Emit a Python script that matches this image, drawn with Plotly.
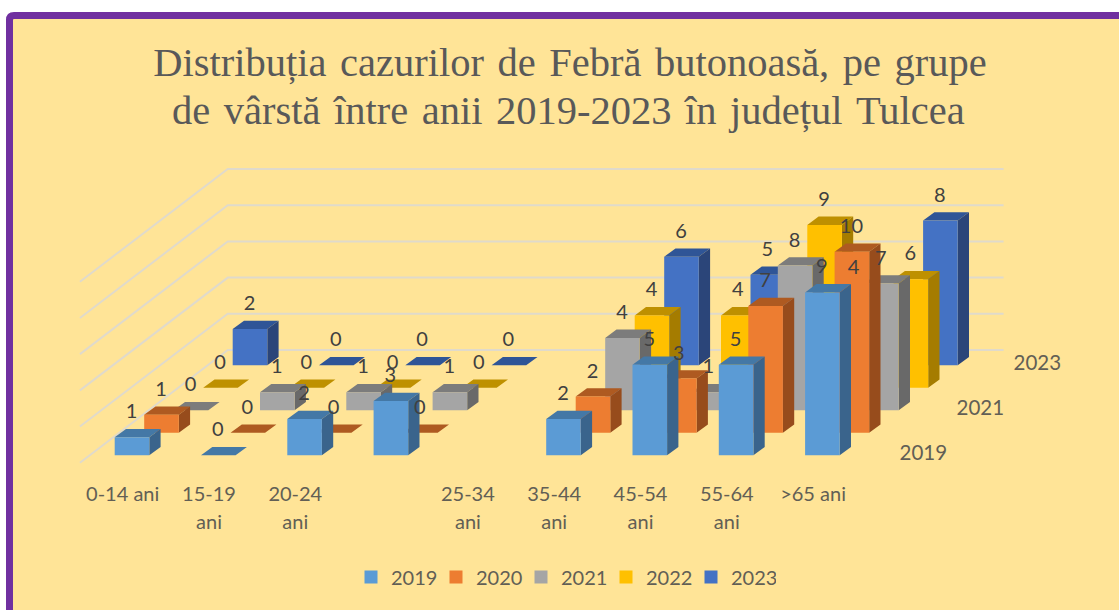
import plotly.graph_objects as go

H = "\u200a"
title_line1 = "Distribuția cazurilor de Febră butonoasă, pe grupe".replace(" ", " " + H)
title_line2 = "de vârstă între anii 2019-2023 în județul Tulcea".replace(" ", " " + H)
cat_line1 = ["0-14 ani", "15-19", "20-24", "", "25-34", "35-44", "45-54", "55-64", ">65 ani"]
cat_line2 = ["", "ani", "ani", "", "ani", "ani", "ani", "ani", ""]
series_names = ["2019", "2020", "2021", "2022", "2023"]
depth_labels = ["2019", "", "2021", "", "2023"]

v2019 = [1, 0, 2, 3, None, 2, 5, 5, 9]
v2020 = [1, 0, 0, 0, None, 2, 3, 7, 10]
v2021 = [0, 1, 1, 1, None, 4, 1, 8, 7]
v2022 = [0, 0, 0, 0, None, 4, 4, 9, 6]
v2023 = [2, 0, 0, 0, None, 6, 5, 4, 8]
values = [v2019, v2020, v2021, v2022, v2023]
grid_values = [0, 2, 4, 6, 8, 10]

front_colors = ["#5B9BD5", "#ED7D31", "#A5A5A5", "#FFC000", "#4472C4"]
top_colors = ["#4478A6", "#AE5A21", "#7C7C7C", "#BE9000", "#2F5597"]
side_colors = ["#3A648C", "#974C1C", "#696969", "#A57C00", "#2B4579"]

# oblique projection
X0, Y0 = 114.7, 455.3
CAT_DX, SER_DX, SER_DY, UNIT = 86.3, 29.5, 22.5, 18.1
BAR_W, DEPTH_X, DEPTH_Y = 34.6, 11.3, 8.3
C_LEFT, C_RIGHT, S_FRONT, S_BACK = -0.29, 8.7, -0.33, 4.68


def proj(c, s, v):
    return X0 + c * CAT_DX + s * SER_DX, Y0 - s * SER_DY - v * UNIT


def add_poly(xs, ys, pts):
    for p in pts:
        xs.append(p[0])
        ys.append(p[1])
    xs.append(pts[0][0])
    ys.append(pts[0][1])
    xs.append(None)
    ys.append(None)


fig = go.Figure()

# walls
gx, gy = [], []
for g in grid_values:
    for p in (proj(C_LEFT, S_FRONT, g), proj(C_LEFT, S_BACK, g), proj(C_RIGHT, S_BACK, g)):
        gx.append(p[0])
        gy.append(p[1])
    gx.append(None)
    gy.append(None)
fig.add_trace(go.Scatter(x=gx, y=gy, mode="lines", line=dict(color="#E0DACB", width=2),
                         showlegend=False, hoverinfo="skip"))

# bars, back row first
for s in range(4, -1, -1):
    fx, fy, tx, ty, sx, sy = [], [], [], [], [], []
    for c, v in enumerate(values[s]):
        if v is None:
            continue
        bx, by = proj(c, s, 0)
        _, ty0 = proj(c, s, v)
        add_poly(tx, ty, [(bx, ty0), (bx + BAR_W, ty0),
                          (bx + BAR_W + DEPTH_X, ty0 - DEPTH_Y), (bx + DEPTH_X, ty0 - DEPTH_Y)])
        if v > 0:
            add_poly(fx, fy, [(bx, by), (bx + BAR_W, by), (bx + BAR_W, ty0), (bx, ty0)])
            add_poly(sx, sy, [(bx + BAR_W, by), (bx + BAR_W + DEPTH_X, by - DEPTH_Y),
                              (bx + BAR_W + DEPTH_X, ty0 - DEPTH_Y), (bx + BAR_W, ty0)])
    for xs, ys, col in ((tx, ty, top_colors[s]), (sx, sy, side_colors[s]), (fx, fy, front_colors[s])):
        fig.add_trace(go.Scatter(x=xs, y=ys, mode="lines", fill="toself", fillcolor=col,
                                 line=dict(width=0, color=col), showlegend=False, hoverinfo="skip"))

# data labels
lx, ly, lt = [], [], []
for s in range(5):
    for c, v in enumerate(values[s]):
        if v is None:
            continue
        x, y = proj(c, s, v)
        lx.append(x + BAR_W / 2 - 0.5)
        ly.append(y - 24)
        lt.append(str(v))
fig.add_trace(go.Scatter(x=lx, y=ly, text=lt, mode="text", textposition="middle center",
                         textfont=dict(family="Lato", size=20, color="#404040"),
                         showlegend=False, hoverinfo="skip"))

# category labels
for line, labels in ((0, cat_line1), (1, cat_line2)):
    fig.add_trace(go.Scatter(x=[X0 + 8 + c * CAT_DX for c in range(len(labels))],
                             y=[496 + 28 * line] * len(labels), text=labels, mode="text",
                             textposition="middle center",
                             textfont=dict(family="Lato", size=20, color="#625F55"),
                             showlegend=False, hoverinfo="skip"))

# depth axis labels
depth_pts = [proj(9.37, s, 0) for s in range(5)]
fig.add_trace(go.Scatter(x=[p[0] - s for s, p in enumerate(depth_pts)], y=[p[1] for p in depth_pts],
                         text=depth_labels, mode="text", textposition="middle center",
                         textfont=dict(family="Lato", size=20.5, color="#625F55"),
                         showlegend=False, hoverinfo="skip"))

# legend
for name, col in zip(series_names, front_colors):
    fig.add_trace(go.Scatter(x=[None], y=[None], mode="markers", name=name,
                             marker=dict(symbol="square", size=13, color=col)))

fig.update_layout(
    width=1119, height=610, autosize=False,
    margin=dict(l=0, r=0, t=0, b=0),
    paper_bgcolor="white", plot_bgcolor="rgba(0,0,0,0)",
    title=dict(text=title_line1, x=570 / 1119, xanchor="center", y=1 - 62 / 610, yanchor="middle",
               font=dict(family="Liberation Serif", size=40.5, color="#595959")),
    annotations=[dict(text=title_line2, x=568.5, y=110, xref="x", yref="y", xanchor="center",
                      yanchor="middle", showarrow=False,
                      font=dict(family="Liberation Serif", size=40.5, color="#595959"))],
    xaxis=dict(range=[0, 1119], visible=False, fixedrange=True),
    yaxis=dict(range=[610, 0], visible=False, fixedrange=True),
    legend=dict(orientation="h", x=351 / 1119, xanchor="left", y=1 - 577 / 610, yanchor="middle",
                bgcolor="rgba(0,0,0,0)", entrywidth=40, entrywidthmode="pixels",
                font=dict(family="Lato", size=20, color="#625F55")),
    shapes=[dict(type="path", layer="below", xref="x", yref="y",
                 path="M 9.5 20 Q 9.5 15.5 14 15.5 L 1140 15.5 L 1140 640 L 9.5 640 Z",
                 fillcolor="#FFE497", line=dict(color="#7030A0", width=7))],
)
fig.write_html("out.html", config={"displayModeBar": False},
               post_script="document.body.style.margin='0';document.body.style.overflow='hidden';")
